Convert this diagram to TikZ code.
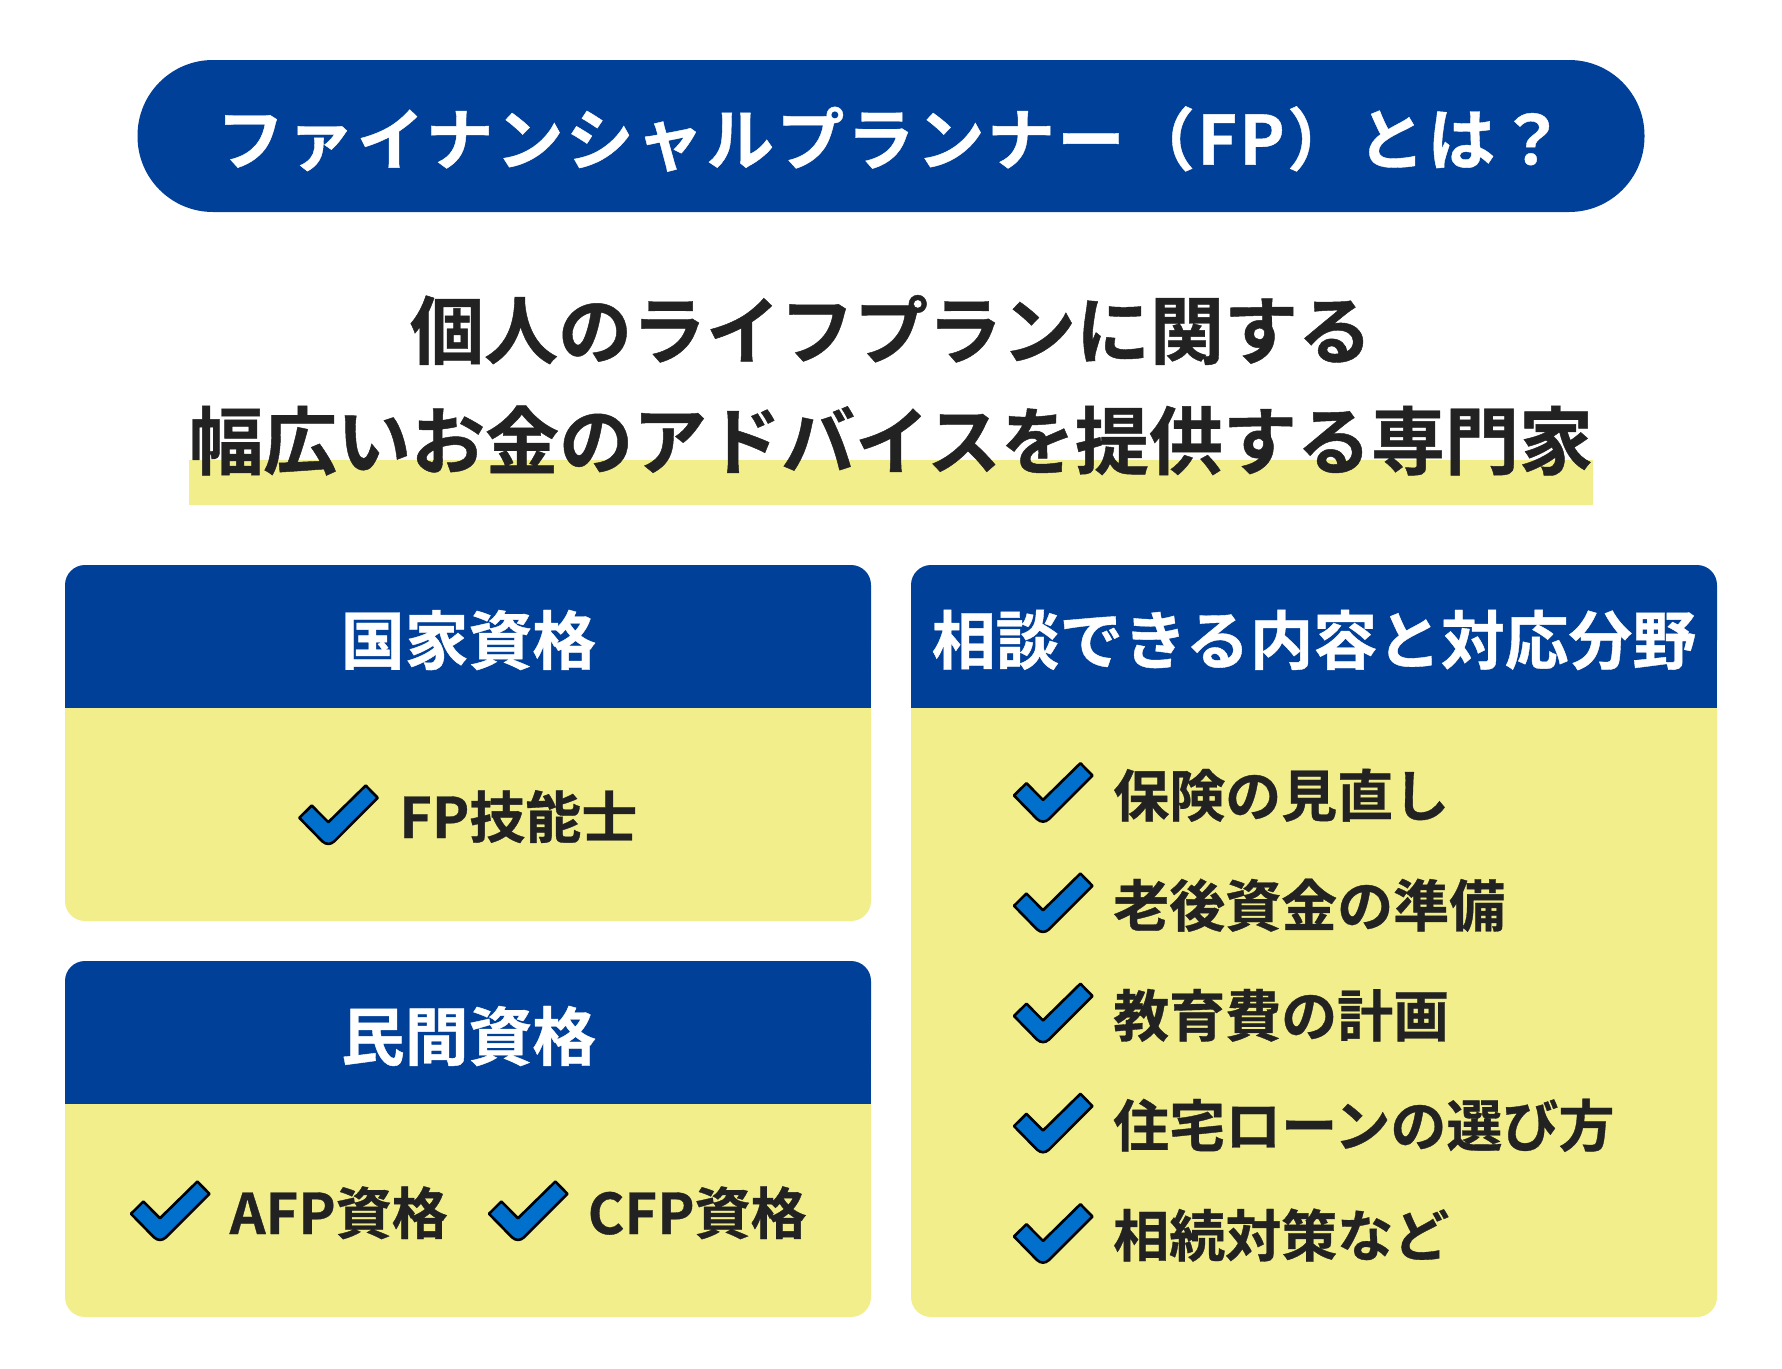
\documentclass[tikz,border=0pt]{standalone}
\usepackage{fontspec}
\newfontfamily\titlefont{Noto Sans CJK JP Bold}[LetterSpace=3.5,FakeBold=0.6]
\newfontfamily\jpfont{Noto Sans CJK JP Bold}[FakeBold=0.6]
\definecolor{navy}{HTML}{014099}
\definecolor{pale}{HTML}{F2EE8C}
\definecolor{ink}{HTML}{222222}
\definecolor{tick}{HTML}{0070CC}
\tikzset{
  x=1pt,y=-1pt,
  titletext/.style={text=white,inner sep=0pt,font=\titlefont\fontsize{67.8}{70}\selectfont},
  leadtext/.style={text=ink,inner sep=0pt,font=\jpfont\fontsize{74}{90}\selectfont},
  headtext/.style={text=white,inner sep=0pt,font=\jpfont\fontsize{63.8}{70}\selectfont},
  itemtext/.style={text=ink,inner sep=0pt,anchor=base west,font=\jpfont\fontsize{56}{60}\selectfont},
  chk/.pic={
    \draw[fill=tick,draw=black,line width=2.6pt,line join=round]
      (0,0) -- (12.4,-12.3) -- (29,4.4) -- (66.4,-32.3) -- (78.4,-20)
      -- (35,23.5) .. controls (31,27) and (27,27) .. (23,23.5) -- cycle;
  }
}
\begin{document}
\begin{tikzpicture}
\useasboundingbox (0,0) rectangle (1782,1368);
\fill[white] (0,0) rectangle (1782,1368);
% title pill
\fill[navy,rounded corners=75.5pt] (137.5,60) rectangle (1644.5,212);
\node[titletext] (title) at (891,139) {ファイナンシャルプランナー（FP）とは？};
% lead
\fill[pale] (189,460) rectangle (1593,505);
\node[leadtext] (lead1) at (891,330) {個人のライフプランに関する};
\node[leadtext] (lead2) at (891,440.5) {幅広いお金のアドバイスを提供する専門家};
% cards
\fill[pale,rounded corners=20pt] (65,650) rectangle (871,921);
\fill[navy,rounded corners=20pt] (65,565) rectangle (871,660);
\fill[navy] (65,620) rectangle (871,708);
\fill[pale] (65,708) rectangle (871,800);
\fill[pale,rounded corners=20pt] (65,1050) rectangle (871,1317);
\fill[navy,rounded corners=20pt] (65,961) rectangle (871,1040);
\fill[navy] (65,1000) rectangle (871,1104);
\fill[pale] (65,1104) rectangle (871,1200);
\fill[pale,rounded corners=20pt] (911,650) rectangle (1717,1317);
\fill[navy,rounded corners=20pt] (911,565) rectangle (1717,660);
\fill[navy] (911,620) rectangle (1717,708);
\fill[pale] (911,708) rectangle (1717,800);
\node[headtext] (h1) at (468.5,640) {国家資格};
\node[headtext] (h2) at (468.5,1036) {民間資格};
\node[headtext] (h3) at (1314,640) {相談できる内容と対応分野};
% items
\pic at (299.3,817.8) {chk};
\node[itemtext] (i1) at (399,838) {FP技能士};
\pic at (131,1213.8) {chk};
\node[itemtext] (i2) at (229.5,1234) {AFP資格};
\pic at (489,1213.8) {chk};
\node[itemtext] (i3) at (587.5,1234) {CFP資格};
\pic at (1014,795.5) {chk};
\node[itemtext] (r1) at (1113,816.5) {保険の見直し};
\pic at (1014,905.8) {chk};
\node[itemtext] (r2) at (1113,926.5) {老後資金の準備};
\pic at (1014,1016) {chk};
\node[itemtext] (r3) at (1113,1036.5) {教育費の計画};
\pic at (1014,1126.1) {chk};
\node[itemtext] (r4) at (1113,1146.5) {住宅ローンの選び方};
\pic at (1014,1236.5) {chk};
\node[itemtext] (r5) at (1113,1256.5) {相続対策など};
\end{tikzpicture}
\end{document}
